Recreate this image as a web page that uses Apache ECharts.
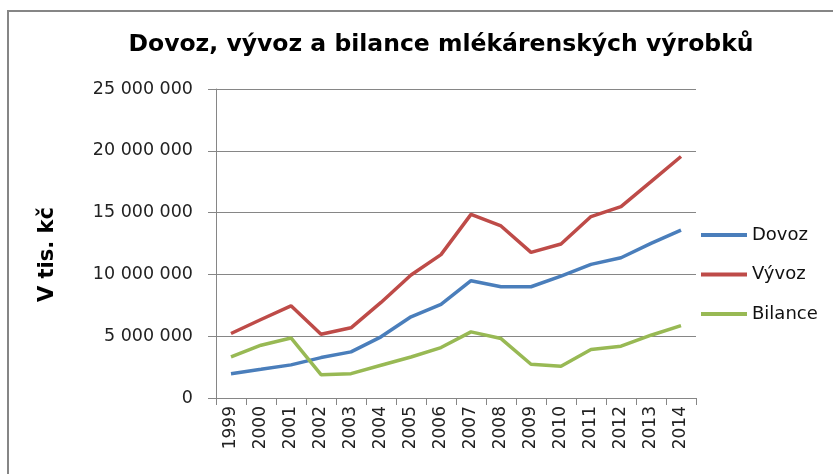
<!DOCTYPE html>
<html>
<head>
<meta charset="utf-8">
<script src="https://cdn.jsdelivr.net/npm/echarts@6/dist/echarts.min.js"></script>
<style>
  html, body { margin: 0; padding: 0; background: #fff; }
  #chart { width: 833px; height: 474px; }
</style>
</head>
<body>
<div id="chart"></div>
<script>
const years = ['1999', '2000', '2001', '2002', '2003', '2004', '2005', '2006',
  '2007', '2008', '2009', '2010', '2011', '2012', '2013', '2014'];

// V tis. kč
const dovoz = [1970000, 2320000, 2680000, 3270000, 3730000, 4950000, 6570000, 7570000,
  9490000, 9000000, 9000000, 9860000, 10810000, 11350000, 12510000, 13590000];
const vyvoz = [5220000, 6350000, 7460000, 5160000, 5680000, 7730000, 9950000, 11600000,
  14860000, 13920000, 11780000, 12460000, 14680000, 15490000, 17500000, 19540000];
const bilance = [3320000, 4270000, 4860000, 1890000, 1970000, 2650000, 3320000, 4080000,
  5350000, 4810000, 2730000, 2570000, 3920000, 4190000, 5080000, 5860000];

const seriesNames = ['Dovoz', 'Vývoz', 'Bilance'];
const seriesColors = ['#4a7ebb', '#be4b48', '#98b954'];

const font = 'DejaVu Sans';

function fmtSpaces(v) {
  return String(v).replace(/\B(?=(\d{3})+(?!\d))/g, ' ');
}

const chart = echarts.init(document.getElementById('chart'));

const option = {
  animation: false,
  backgroundColor: '#fff',
  title: {
    text: 'Dovoz, vývoz a bilance mlékárenských výrobků',
    left: 436,
    textAlign: 'center',
    top: 28,
    textStyle: { fontFamily: font, fontSize: 23.5, fontWeight: 'bold', color: '#000' }
  },
  graphic: [{
    type: 'rect',
    shape: { x: 8, y: 11, width: 900, height: 500 },
    style: { fill: 'none', stroke: '#868686', lineWidth: 2 },
    silent: true
  }],
  legend: {
    orient: 'vertical',
    left: 696,
    top: 221,
    icon: 'rect',
    itemWidth: 46,
    itemHeight: 4,
    itemGap: 21.5,
    data: seriesNames,
    textStyle: { fontFamily: font, fontSize: 18, color: '#111' }
  },
  grid: {
    left: 216,
    right: 137,
    top: 89,
    bottom: 76
  },
  xAxis: {
    type: 'category',
    data: years,
    boundaryGap: true,
    axisLine: { lineStyle: { color: '#868686', width: 1 } },
    axisTick: { show: true, interval: 0, length: 7, lineStyle: { color: '#868686' } },
    axisLabel: {
      interval: 0,
      rotate: 90,
      margin: 8,
      fontFamily: font,
      fontSize: 17,
      color: '#222'
    }
  },
  yAxis: {
    type: 'value',
    min: 0,
    max: 25000000,
    interval: 5000000,
    name: 'V tis. kč',
    nameLocation: 'middle',
    nameGap: 158,
    nameTextStyle: {
      fontFamily: font, fontSize: 21, fontWeight: 'bold', color: '#000',
      padding: [0, 22, 0, 0]
    },
    axisLine: { show: true, lineStyle: { color: '#868686', width: 1 } },
    axisTick: { show: true, length: 8, lineStyle: { color: '#868686' } },
    splitLine: { lineStyle: { color: '#868686', width: 1 } },
    axisLabel: {
      margin: 23,
      fontFamily: font,
      fontSize: 17.5,
      color: '#222',
      formatter: fmtSpaces
    }
  },
  series: [dovoz, vyvoz, bilance].map((d, i) => ({
    name: seriesNames[i],
    type: 'line',
    data: d,
    symbol: 'none',
    color: seriesColors[i],
    lineStyle: { width: 3.5, color: seriesColors[i] }
  }))
};

chart.setOption(option);
</script>
</body>
</html>
